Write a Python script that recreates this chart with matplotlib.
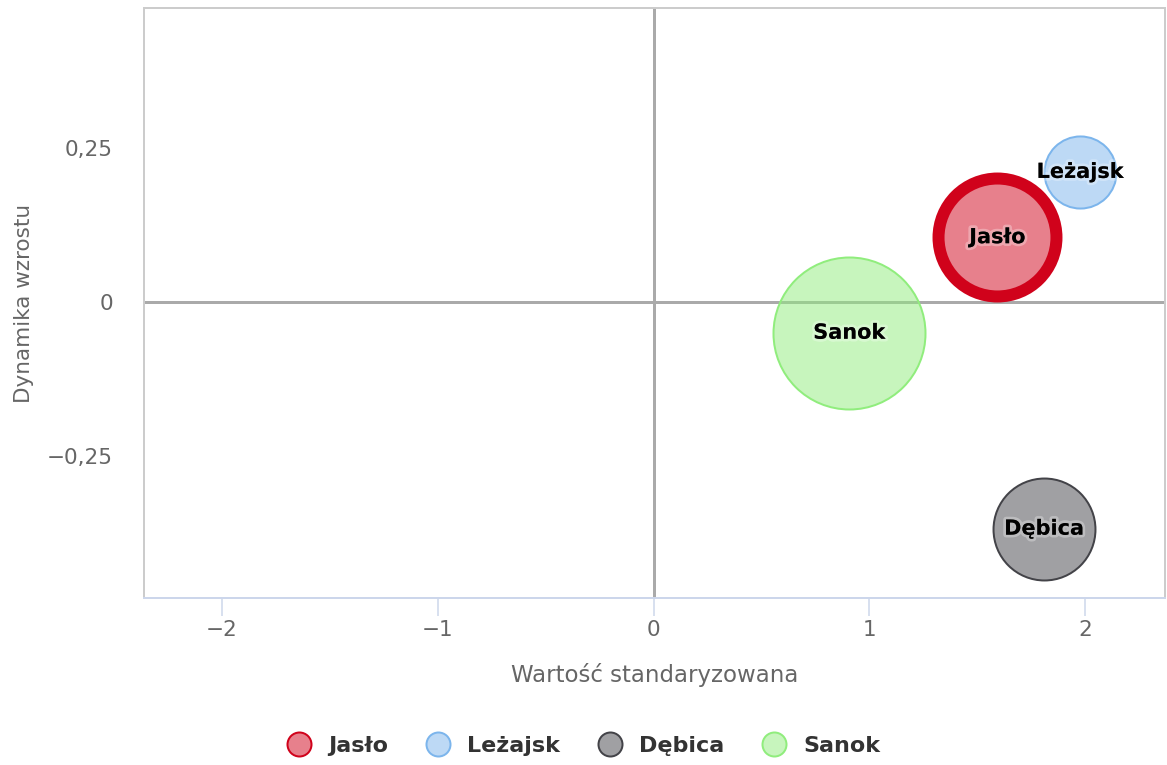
import numpy as np
import matplotlib
matplotlib.use("Agg")
import matplotlib.pyplot as plt
import matplotlib.patheffects as pe
from matplotlib.lines import Line2D
from matplotlib.ticker import FuncFormatter

# bubble data
names = ["Jasło", "Leżajsk", "Dębica", "Sanok"]
x_vals = [1.593, 1.977, 1.810, 0.907]
y_vals = [0.105, 0.211, -0.368, -0.050]
z_vals = [3.48, 1.30, 2.60, 5.78]

edge_colors = ["#d0021b", "#7cb5ec", "#434348", "#90ed7d"]
edge_widths = [12, 2, 2, 2]  # px

x_ticks = [-2, -1, 0, 1, 2]
y_ticks = [-0.25, 0, 0.25]

DPI = 100
px = 72 / DPI  # points per pixel

fig = plt.figure(figsize=(11.67, 7.65), dpi=DPI)
ax = fig.add_axes([144 / 1167, 1 - 598 / 765, 1021 / 1167, 590 / 765])

ax.set_xlim(-2.361, 2.370)
ax.set_ylim(-0.4805, 0.477)

ax.axhline(0, color="#aaaaaa", lw=3 * px, zorder=1)
ax.axvline(0, color="#aaaaaa", lw=3 * px, zorder=1)

max_r = 76  # px radius of the largest bubble
z_max = max(z_vals)
for i, name in enumerate(names):
    r = max_r * np.sqrt(z_vals[i] / z_max)
    d = 2 * r * px
    fc = matplotlib.colors.to_rgba(edge_colors[i], 0.5)
    ax.scatter([x_vals[i]], [y_vals[i]], s=d ** 2, facecolor=fc,
               edgecolor=edge_colors[i], linewidth=edge_widths[i] * px,
               zorder=3 + i)
    ax.text(x_vals[i], y_vals[i], name, ha="center", va="center",
            fontsize=15, fontweight="bold", color="black", zorder=10,
            path_effects=[pe.withStroke(linewidth=4, foreground=(1, 1, 1, 0.3))])

ax.set_xticks(x_ticks)
ax.set_yticks(y_ticks)
ax.xaxis.set_major_formatter(FuncFormatter(lambda v, p: f"{v:g}".replace("-", "\u2212")))
ax.yaxis.set_major_formatter(
    FuncFormatter(lambda v, p: ("0" if v == 0 else f"{v:g}").replace(".", ",").replace("-", "\u2212")))
ax.tick_params(axis="x", length=18 * px, width=1.5 * px, color="#ccd6eb",
               direction="out", pad=3, labelsize=15.5, labelcolor="#666666")
ax.tick_params(axis="y", length=0, pad=31 * px, labelsize=15.5, labelcolor="#666666")

for side in ["top", "left", "right"]:
    ax.spines[side].set_color("#cccccc")
    ax.spines[side].set_linewidth(2 * px)
ax.spines["bottom"].set_color("#ccd6eb")
ax.spines["bottom"].set_linewidth(2 * px)

ax.set_xlabel("Wartość standaryzowana", fontsize=16.5, color="#666666", va="center")
ax.xaxis.set_label_coords(0.5, -(675 - 598) / 590)
ax.set_ylabel("Dynamika wzrostu", fontsize=15.5, color="#666666", va="center", ha="center")
ax.yaxis.set_label_coords((24 - 144) / 1021, 0.5)

handles = []
for i, name in enumerate(names):
    fc = matplotlib.colors.to_rgba(edge_colors[i], 0.5)
    handles.append(Line2D([], [], ls="none", marker="o", markersize=24 * px,
                          markerfacecolor=fc, markeredgecolor=edge_colors[i],
                          markeredgewidth=2 * px))
leg = fig.legend(handles, names, loc="center", bbox_to_anchor=(0.5, 1 - 746 / 765),
                 ncol=4, frameon=False, handlelength=1.1, handletextpad=0.75,
                 columnspacing=1.7, prop={"size": 16, "weight": "bold"})
for t in leg.get_texts():
    t.set_color("#333333")

fig.savefig("out.png", dpi=DPI)
